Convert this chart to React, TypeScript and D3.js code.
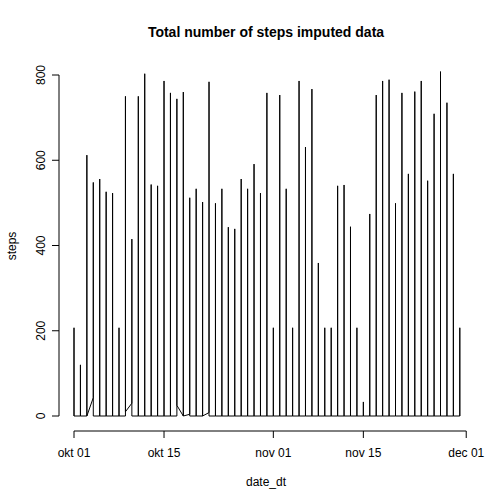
import * as d3 from "d3";

// daily peak steps, okt 01 .. nov 30
const peakSteps = [
  207, 120, 612, 548, 556, 526, 523, 207, 750, 415, 750, 803, 543, 540, 786, 758,
  744, 760, 512, 533, 502, 784, 499, 533, 443, 439, 556, 533, 591, 523, 758,
  207, 753, 533, 207, 786, 631, 767, 359, 207, 207, 540, 542, 444, 207, 33,
  474, 753, 786, 789, 499, 758, 568, 761, 786, 552, 709, 808, 735, 568, 207,
];
// first / last interval value of a day, where not zero (day index -> steps)
const startSteps: Record<number, number> = { 3: 43, 9: 30, 18: 4, 21: 8 };
const endSteps: Record<number, number> = { 8: 10, 16: 25 };

const xTicks = [0, 14, 31, 45, 61];
const xTickLabels = ["okt 01", "okt 15", "nov 01", "nov 15", "dec 01"];
const yTicks = [0, 200, 400, 600, 800];

export default function App() {
  const x = d3.scaleLinear().domain([0, 61]).range([74, 74 + 61 * 6.43]);
  const y = d3.scaleLinear().domain([0, 800]).range([416, 75]);

  const pts: [number, number][] = [];
  peakSteps.forEach((p, i) => {
    pts.push([i, startSteps[i] ?? 0]);
    pts.push([i, p]);
    pts.push([i, endSteps[i] ?? 0]);
  });
  const line = d3.line<[number, number]>().x((d) => x(d[0])).y((d) => y(d[1]));
  const font = "Liberation Sans, Arial, sans-serif";

  return (
    <svg width={504} height={504} style={{ position: "absolute", left: 0, top: 0 }} fontFamily={font}>
      <rect width={504} height={504} fill="white" />
      <text x={266} y={37} textAnchor="middle" fontWeight="bold" fontSize={14}>
        Total number of steps imputed data
      </text>
      <path d={line(pts) ?? ""} fill="none" stroke="black" strokeWidth={1} />
      {/* x axis */}
      <line x1={x(0)} x2={x(61)} y1={431} y2={431} stroke="black" />
      {xTicks.map((t, i) => (
        <g key={t}>
          <line x1={x(t)} x2={x(t)} y1={431} y2={438} stroke="black" />
          <text x={x(t)} y={457} textAnchor="middle" fontSize={12}>{xTickLabels[i]}</text>
        </g>
      ))}
      {/* y axis */}
      <line x1={59} x2={59} y1={y(0)} y2={y(800)} stroke="black" />
      {yTicks.map((t) => (
        <g key={t}>
          <line x1={52} x2={59} y1={y(t)} y2={y(t)} stroke="black" />
          <text transform={`translate(45,${y(t)}) rotate(-90)`} textAnchor="middle" fontSize={12}>{t}</text>
        </g>
      ))}
      <text x={266} y={486} textAnchor="middle" fontSize={12}>date_dt</text>
      <text transform="translate(16,246) rotate(-90)" textAnchor="middle" fontSize={12}>steps</text>
    </svg>
  );
}
